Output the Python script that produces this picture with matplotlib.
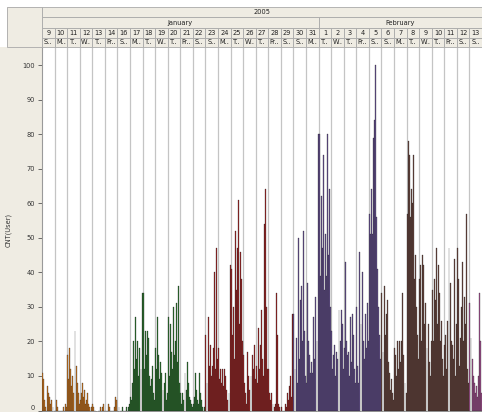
import matplotlib
matplotlib.use("Agg")
import matplotlib.pyplot as plt
from matplotlib.patches import Rectangle
from matplotlib.transforms import blended_transform_factory
import numpy as np

# ---------------- data ----------------
days = [9, 10, 11, 12, 13, 14, 16, 17, 18, 19, 20, 21, 22, 23, 24, 25, 26, 27, 28, 29, 30, 31,
        1, 2, 3, 4, 5, 6, 7, 8, 9, 10, 11, 12, 13]
weekdays = ["S..", "M..", "T..", "W..", "T..", "Fr..", "S..", "M..", "T..", "W..", "T..", "Fr..", "S..",
            "S..", "M..", "T..", "W..", "T..", "Fr..", "S..", "S..", "M..", "T..", "W..", "T..", "Fr..",
            "S..", "S..", "M..", "T..", "W..", "T..", "Fr..", "S..", "S.."]
months = ["January", "February"]
month_days = [22, 13]
year_label = "2005"
bins_per_day = 12

week1 = [11, 9, 3, 1, 0, 7, 5, 4, 2, 3, 1, 0,
         0, 3, 1, 0, 0, 0, 0, 0, 1, 0, 2, 1,
         16, 9, 18, 12, 7, 10, 5, 23, 13, 8, 5, 2,
         3, 5, 8, 4, 6, 2, 3, 5, 2, 1, 0, 1,
         2, 1, 0, 0, 0, 0, 0, 1, 0, 1, 2, 0,
         0, 0, 0, 2, 1, 0, 0, 0, 0, 1, 4, 3]
week2 = [0, 1, 0, 0, 1, 0, 0, 0, 1, 0, 1, 2,
         4, 3, 8, 20, 12, 27, 15, 20, 10, 18, 12, 34,
         34, 12, 23, 16, 23, 21, 10, 7, 9, 13, 5, 3,
         18, 12, 27, 16, 9, 14, 11, 6, 8, 11, 3, 5,
         27, 10, 25, 17, 12, 30, 16, 20, 31, 14, 36, 8,
         5, 2, 5, 3, 11, 6, 14, 8, 4, 3, 2, 1,
         2, 4, 11, 6, 3, 2, 11, 5, 3, 1, 0, 1]
week3 = [22, 8, 27, 13, 19, 10, 13, 18, 40, 12, 47, 15,
         18, 9, 12, 8, 12, 7, 12, 10, 6, 3, 5, 42,
         41, 22, 30, 15, 52, 35, 47, 61, 25, 46, 38, 20,
         16, 8, 5, 2, 17, 10, 6, 10, 16, 12, 19, 9,
         13, 8, 24, 12, 19, 29, 15, 10, 54, 64, 30, 12,
         12, 5, 3, 5, 2, 1, 2, 34, 22, 2, 1, 0,
         1, 0, 0, 0, 2, 1, 5, 3, 7, 10, 4, 28]
week4 = [28, 12, 21, 8, 50, 15, 32, 36, 20, 52, 23, 10,
         8, 37, 20, 16, 11, 14, 11, 27, 15, 33, 20, 80,
         80, 39, 62, 47, 74, 35, 51, 39, 80, 45, 64, 30,
         23, 12, 16, 19, 10, 17, 15, 29, 20, 29, 25, 12,
         18, 43, 20, 16, 17, 10, 27, 14, 28, 22, 12, 8,
         30, 13, 8, 46, 25, 40, 20, 15, 28, 18, 31, 20,
         57, 51, 64, 51, 79, 84, 100, 56, 41, 30, 22, 15]
week5 = [34, 17, 36, 22, 28, 32, 14, 11, 6, 9, 5, 3,
         18, 16, 10, 20, 12, 20, 14, 20, 34, 16, 8, 5,
         57, 78, 74, 56, 64, 60, 74, 38, 45, 30, 22, 15,
         38, 42, 20, 45, 42, 25, 31, 18, 25, 14, 10, 20,
         35, 20, 38, 32, 47, 25, 42, 34, 20, 26, 15, 10,
         19, 22, 12, 26, 47, 37, 20, 19, 15, 44, 10, 25,
         47, 38, 13, 21, 30, 43, 20, 33, 25, 57, 12, 8]
week6 = [31, 21, 15, 10, 8, 5, 7, 4, 10, 34, 20, 5]

weeks = [week1, week2, week3, week4, week5, week6]
week_colors = ["#d07a22", "#2f7632", "#a02828", "#6a5494", "#6e4a42", "#a85696"]

# ---------------- figure ----------------
W, H = 482, 412
fig = plt.figure(figsize=(W / 100, H / 100), dpi=100)
fig.patch.set_facecolor("white")
beige = "#efece3"
border = "#a9a9a9"

# left beige panel (behind everything)
fig.patches.append(Rectangle((0, 0), 42 / W, 1, transform=fig.transFigure,
                             facecolor=beige, edgecolor="none", zorder=-10))
fig.patches.append(Rectangle((0, (H - 7.3) / H), 1, 7.3 / H, transform=fig.transFigure,
                             facecolor="white", edgecolor="none", zorder=-9))
fig.patches.append(Rectangle((0, (H - 47.3) / H), 7 / W, 40 / H, transform=fig.transFigure,
                             facecolor="white", edgecolor="none", zorder=-9))
fig.patches.append(Rectangle((7 / W, (H - 47.3) / H), 35 / W, 40 / H,
                             transform=fig.transFigure, facecolor=beige, edgecolor=border,
                             linewidth=0.6, zorder=-8))

top_px, bot_px = 48.5, 410.5
ax = fig.add_axes([42 / W, (H - bot_px) / H, 440 / W, (bot_px - top_px) / H])

ndays = len(days)
start = 0
for vals, col in zip(weeks, week_colors):
    n = len(vals)
    x = start + (np.arange(n) + 0.5) / bins_per_day
    ax.bar(x, vals, width=0.9 / bins_per_day, color=col, edgecolor="#111111",
           linewidth=0.18, zorder=3)
    start += n / bins_per_day

ax.set_xlim(0, ndays)
ax.set_ylim(0, 104.8)
for d in range(1, ndays):
    ax.axvline(d, color="#c4c4c4", linewidth=0.9, zorder=1)

ax.set_yticks(np.arange(0, 101, 10))
ax.tick_params(axis="y", labelsize=4.8, length=3, width=0.6, color="#555555",
               labelcolor="#333333", pad=2)
ax.set_xticks([])
ax.set_xticks(np.arange(0, ndays, 1 / bins_per_day), minor=True)
ax.tick_params(axis="x", which="minor", length=1.2, width=0.4, color="#555555")
for s in ["top", "right"]:
    ax.spines[s].set_visible(False)
ax.spines["left"].set_color("#9a9a9a")
ax.spines["bottom"].set_color("#777777")
ax.spines["bottom"].set_linewidth(0.5)
ax.set_ylabel("CNT(User)", fontsize=4.8, color="#333333", labelpad=14)
ax.yaxis.set_label_coords(-0.068, 0.5)
ax.get_yticklabels()[0].set_va("bottom")

# ---------------- header ----------------
ah = bot_px - top_px
def yf(px):
    return 1 + (top_px - px) / ah

trans = blended_transform_factory(ax.transData, ax.transAxes)
rows = [7.3, 17.3, 28.3, 37.7, 47.3]
fs = 4.8

def cell(x0, x1, y0, y1, text):
    ax.add_patch(Rectangle((x0, yf(y1)), x1 - x0, yf(y0) - yf(y1), transform=trans,
                           facecolor=beige, edgecolor=border, linewidth=0.6, clip_on=False))
    ax.text((x0 + x1) / 2, (yf(y0) + yf(y1)) / 2, text, transform=trans, ha="center",
            va="center", fontsize=fs, color="#222222", clip_on=False)

cell(0, ndays, rows[0], rows[1], year_label)
m0 = 0
for m, nd in zip(months, month_days):
    cell(m0, m0 + nd, rows[1], rows[2], m)
    m0 += nd
for i, (d, wd) in enumerate(zip(days, weekdays)):
    cell(i, i + 1, rows[2], rows[3], str(d))
    cell(i, i + 1, rows[3], rows[4], wd)

fig.savefig("out.png", dpi=100)
